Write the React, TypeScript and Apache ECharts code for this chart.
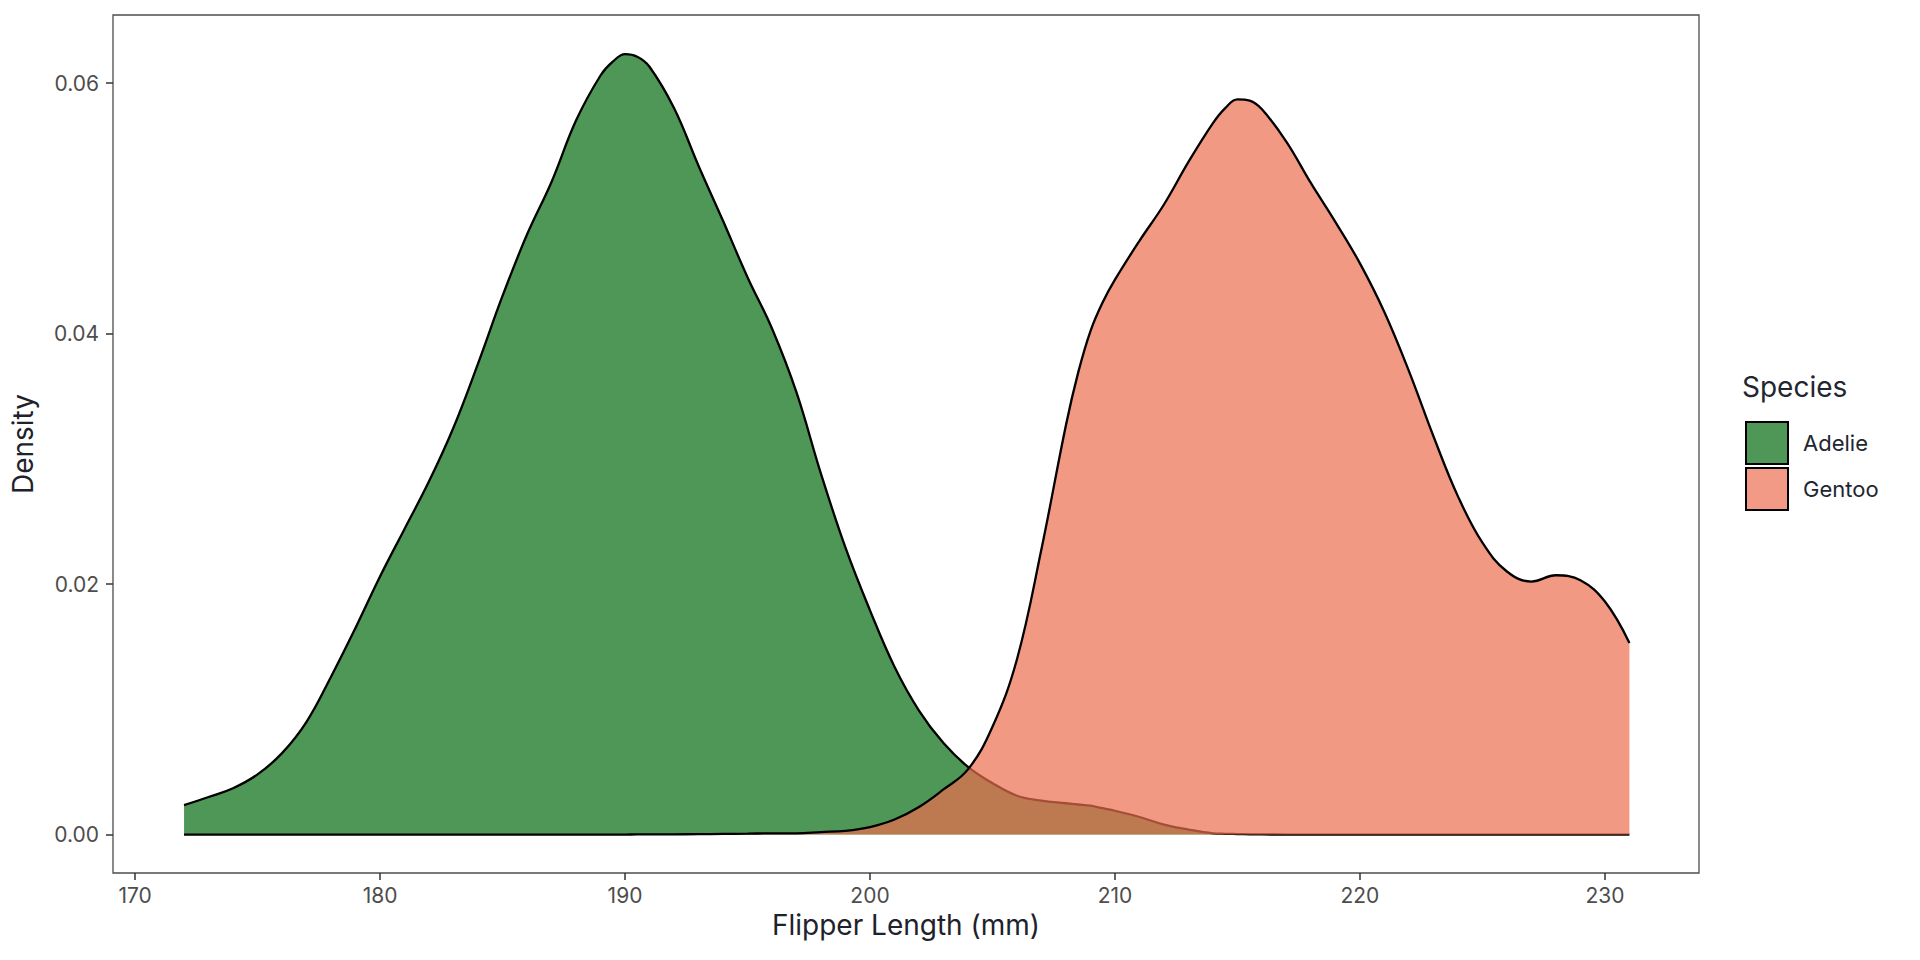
import React, { useEffect, useRef } from "react";
import * as echarts from "echarts";

const flipperLength = [
  172, 173, 174, 175, 176, 177, 178, 179, 180, 181, 182, 183, 184, 185, 186, 187, 188, 189, 189.5, 190,
  190.5, 191, 192, 193, 194, 195, 196, 197, 198, 199, 200, 201, 202, 203, 204, 205, 206, 207, 208, 208.5,
  209, 209.5, 210, 211, 212, 213, 214, 214.5, 215, 215.5, 216, 217, 218, 219, 220, 221, 222, 223, 224, 225,
  226, 227, 228, 229, 230, 231,
];

const adelieDensity = [
  0.00235, 0.003, 0.0037, 0.0048, 0.0065, 0.009, 0.0126, 0.0165, 0.0206, 0.0244,
  0.0282, 0.0325, 0.0376, 0.043, 0.0479, 0.0521, 0.057, 0.0606, 0.0617, 0.0623,
  0.0621, 0.0613, 0.058, 0.0534, 0.049, 0.0445, 0.0404, 0.0353, 0.0288, 0.0229,
  0.0179, 0.0134, 0.0099, 0.0073, 0.0054, 0.0041, 0.0031, 0.0027, 0.0025, 0.0024,
  0.0023, 0.0021, 0.0019, 0.0014, 0.0008, 0.0004, 0.0001, 0.00006, 0.00004, 0.00002,
  0.00001, 0, 0, 0, 0, 0, 0, 0, 0, 0,
  0, 0, 0, 0, 0, 0,
];

const gentooDensity = [
  0, 0, 0, 0, 0, 0, 0, 0, 0, 0,
  0, 0, 0, 0, 0, 0, 0, 0, 0, 0,
  0.00001, 0.00001, 0.00002, 0.00003, 0.00005, 0.00007, 0.0001, 0.0001, 0.0002, 0.0003,
  0.0006, 0.0012, 0.0022, 0.0036, 0.0052, 0.0086, 0.014, 0.0228, 0.0327, 0.0369,
  0.0402, 0.0425, 0.0443, 0.0474, 0.0503, 0.0537, 0.0568, 0.058, 0.0587, 0.0586,
  0.0579, 0.0553, 0.052, 0.0489, 0.0456, 0.0417, 0.037, 0.0318, 0.027, 0.0233,
  0.021, 0.0202, 0.0207, 0.0203, 0.0186, 0.0153,
];

const xTicks = [170, 180, 190, 200, 210, 220, 230];
const yTicks = [0, 0.02, 0.04, 0.06];
const speciesNames = ["Adelie", "Gentoo"];

const FONT = "Inter, 'Noto Sans', sans-serif";
const ADELIE_FILL = "#4f9756";
const GENTOO_FILL = "rgba(236,110,80,0.7)";
const GENTOO_KEY = "#f29a85";

export default function App() {
  const ref = useRef<HTMLDivElement>(null);

  useEffect(() => {
    if (!ref.current) return;
    const chart = echarts.init(ref.current, undefined, { renderer: "svg" });
    const toPairs = (ys: number[]) => flipperLength.map((x, i) => [x, ys[i]]);

    chart.setOption({
      animation: false,
      backgroundColor: "#ffffff",
      grid: {
        left: 113,
        top: 15,
        width: 1586,
        height: 858,
        show: true,
        borderColor: "#4d4d4d",
        borderWidth: 1.3,
        backgroundColor: "transparent",
      },
      xAxis: {
        type: "value",
        min: 169.1,
        max: 233.84,
        name: "Flipper Length (mm)",
        nameLocation: "middle",
        nameGap: 37,
        nameTextStyle: { fontFamily: FONT, fontSize: 28, color: "#1e222b" },
        splitLine: { show: false },
        axisLine: { show: false, onZero: false },
        axisTick: {
          show: true,
          length: 7,
          customValues: xTicks,
          lineStyle: { color: "#333", width: 1.5 },
        },
        axisLabel: {
          customValues: xTicks,
          margin: 12,
          fontFamily: FONT,
          fontSize: 21,
          color: "#4d4d4d",
        },
      },
      yAxis: {
        type: "value",
        min: -0.00307,
        max: 0.06543,
        name: "Density",
        nameLocation: "middle",
        nameRotate: 90,
        nameGap: 76,
        nameTextStyle: { fontFamily: FONT, fontSize: 28, color: "#1e222b" },
        splitLine: { show: false },
        axisLine: { show: false, onZero: false },
        axisTick: {
          show: true,
          length: 7,
          customValues: yTicks,
          lineStyle: { color: "#333", width: 1.5 },
        },
        axisLabel: {
          customValues: yTicks,
          margin: 14,
          fontFamily: FONT,
          fontSize: 21,
          color: "#4d4d4d",
          formatter: (v: number) => v.toFixed(2),
        },
      },
      legend: {
        orient: "vertical",
        left: 1740,
        top: 416,
        itemWidth: 42,
        itemHeight: 42,
        itemGap: 2,
        icon: "rect",
        textStyle: {
          fontFamily: FONT,
          fontSize: 22,
          color: "#22262f",
          padding: [0, 0, 0, 10],
        },
        data: [
          { name: speciesNames[0], itemStyle: { color: ADELIE_FILL, borderColor: "#000", borderWidth: 2 } },
          { name: speciesNames[1], itemStyle: { color: GENTOO_KEY, borderColor: "#000", borderWidth: 2 } },
        ],
      },
      graphic: [
        {
          type: "text",
          left: 1742,
          top: 373,
          style: {
            text: "Species",
            fontFamily: FONT,
            fontSize: 28,
            fill: "#22262f",
          },
        },
      ],
      series: [
        {
          name: speciesNames[0],
          type: "line",
          z: 2,
          data: toPairs(adelieDensity),
          smooth: 0.4,
          showSymbol: false,
          lineStyle: { color: "#000", width: 2.3 },
          itemStyle: { color: ADELIE_FILL },
          areaStyle: { color: ADELIE_FILL, opacity: 1 },
        },
        {
          name: speciesNames[1],
          type: "line",
          z: 3,
          data: toPairs(gentooDensity),
          smooth: 0.4,
          showSymbol: false,
          lineStyle: { color: "#000", width: 2.3 },
          itemStyle: { color: GENTOO_KEY },
          areaStyle: { color: GENTOO_FILL, opacity: 1 },
        },
      ],
    });

    return () => chart.dispose();
  }, []);

  return (
    <div
      ref={ref}
      style={{ position: "fixed", left: 0, top: 0, width: 1920, height: 960, background: "#fff" }}
    />
  );
}
